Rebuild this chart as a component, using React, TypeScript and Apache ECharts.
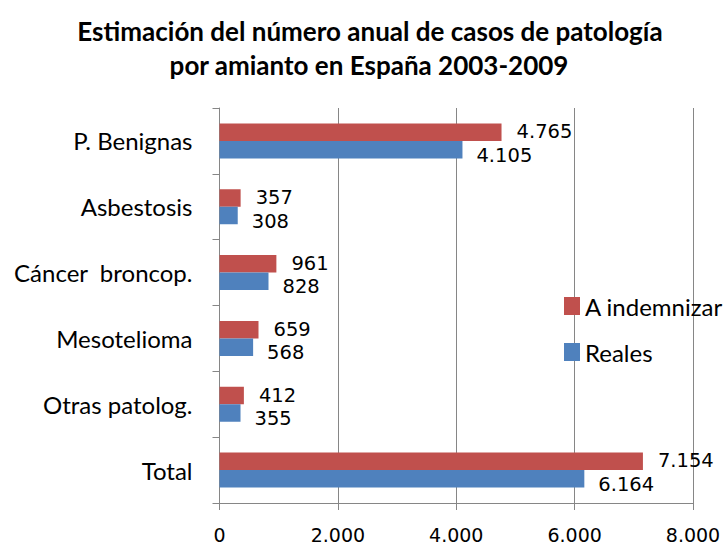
import React, { useEffect, useRef } from "react";
import * as echarts from "echarts";

const categories = ["P. Benignas", "Asbestosis", "Cáncer  broncop.", "Mesotelioma", "Otras patolog.", "Total"];
const indemnizar = [4765, 357, 961, 659, 412, 7154];
const reales = [4105, 308, 828, 568, 355, 6164];
const seriesNames = ["A indemnizar", "Reales"];
const titleLines = ["Estimación del número anual de casos de patología", "por amianto en España 2003-2009"];

const fmt = (v: number) => {
  if (v >= 1000) {
    const t = Math.floor(v / 1000);
    const r = v % 1000;
    return t + "." + String(r).padStart(3, "0");
  }
  return String(v);
};

const RED = "#C0504D";
const BLUE = "#4F81BD";
const GRID = "#868686";

export default function App() {
  const ref = useRef<HTMLDivElement>(null);
  useEffect(() => {
    if (!ref.current) return;
    const chart = echarts.init(ref.current, undefined, { renderer: "svg" });
    const labelFont = { fontFamily: "DejaVu Sans", fontSize: 19.5, color: "#000" };
    const titleStyle = { fontFamily: "Lato", fontWeight: "bold", fontSize: 26, fill: "#000", textAlign: "center", textVerticalAlign: "middle" };
    chart.setOption({
      animation: false,
      backgroundColor: "#fff",
      graphic: [
        { type: "text", x: 370, y: 30.5, style: { ...titleStyle, text: titleLines[0] } },
        { type: "text", x: 369, y: 64.5, style: { ...titleStyle, text: titleLines[1] } },
      ],
      legend: {
        orient: "vertical",
        left: 564,
        top: 294,
        padding: 0,
        itemWidth: 16,
        itemHeight: 18,
        itemGap: 22,
        icon: "rect",
        data: seriesNames,
        textStyle: { fontFamily: "Lato", fontSize: 24, color: "#000" },
      },
      grid: { left: 219.5, right: 33, top: 108, bottom: 45, containLabel: false },
      xAxis: {
        type: "value",
        min: 0,
        max: 8000,
        interval: 2000,
        axisLine: { show: true, lineStyle: { color: GRID } },
        axisTick: { show: true, length: 7, lineStyle: { color: GRID } },
        splitLine: { show: true, lineStyle: { color: GRID, width: 1 } },
        axisLabel: { fontFamily: "DejaVu Sans", fontSize: 19, color: "#000", margin: 22, formatter: (v: number) => fmt(v) },
      },
      yAxis: {
        type: "category",
        inverse: true,
        data: categories,
        axisLine: { show: true, lineStyle: { color: GRID } },
        axisTick: { show: true, length: 7, lineStyle: { color: GRID } },
        axisLabel: { fontFamily: "Lato", fontSize: 24, color: "#000", margin: 27 },
      },
      series: [
        {
          name: seriesNames[0],
          type: "bar",
          data: indemnizar,
          barWidth: 17.5,
          barGap: "0%",
          itemStyle: { color: RED },
          label: { show: true, position: "right", distance: 15, offset: [0, -0.5], ...labelFont, formatter: (p: any) => fmt(p.value) },
        },
        {
          name: seriesNames[1],
          type: "bar",
          data: reales,
          barWidth: 17.5,
          barGap: "0%",
          itemStyle: { color: BLUE },
          label: { show: true, position: "right", distance: 14, offset: [0, 5.5], ...labelFont, formatter: (p: any) => fmt(p.value) },
        },
      ],
    });
    return () => chart.dispose();
  }, []);
  return <div ref={ref} style={{ position: "fixed", left: 0, top: 0, width: 726, height: 548 }} />;
}
